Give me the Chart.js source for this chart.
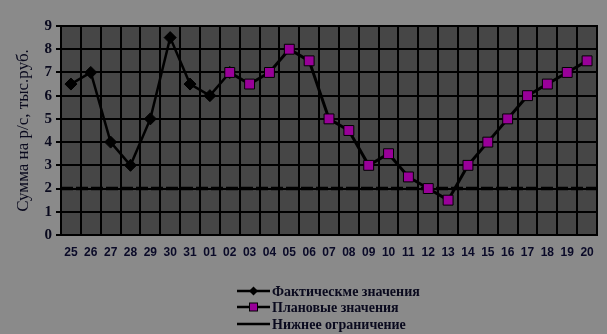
<!DOCTYPE html>
<html><head><meta charset="utf-8">
<script src="https://cdn.jsdelivr.net/npm/chart.js@4"></script>
<style>html,body{margin:0;padding:0;background:#8a8a8a}#w{width:607px;height:334px;position:relative}</style>
</head><body><div id="w"><canvas id="c" width="607" height="334"></canvas></div>
<script>
const categories = ['25','26','27','28','29','30','31','01','02','03','04','05','06','07','08','09','10','11','12','13','14','15','16','17','18','19','20'];
const actualValues = [6.5,7,4,3,5,8.5,6.5,6,7,null,null,null,null,null,null,null,null,null,null,null,null,null,null,null,null,null,null];
const planValues = [null,null,null,null,null,null,null,null,7,6.5,7,8,7.5,5,4.5,3,3.5,2.5,2,1.5,3,4,5,6,6.5,7,7.5];
const lowerLimit = 2;
const yTicks = [0,1,2,3,4,5,6,7,8,9];
const seriesNames = ['Фактическме значения','Плановые значения','Нижнее ограничение'];

const plotBg = {
  id:'plotBg',
  beforeDraw(ch){const {ctx,chartArea:a}=ch;ctx.save();ctx.fillStyle='#8a8a8a';ctx.fillRect(0,0,ch.width,ch.height);ctx.fillStyle='#464646';ctx.fillRect(a.left,a.top,a.right-a.left,a.bottom-a.top);ctx.restore();},
  afterDraw(ch){
    const {ctx,chartArea:a}=ch;ctx.save();
    ctx.strokeStyle='#000';ctx.lineWidth=2;ctx.strokeRect(a.left,a.top,a.right-a.left,a.bottom-a.top);
    const items=ch.data.datasets;
    const x0=237,x1=270,ys=[291,307,324];
    ctx.font='bold 14px "Liberation Serif"';ctx.textBaseline='middle';
    items.forEach((ds,i)=>{
      const y=ys[i];ctx.strokeStyle='#000';ctx.lineWidth=2.5;ctx.setLineDash([]);
      ctx.beginPath();ctx.moveTo(x0,y);ctx.lineTo(x1,y);ctx.stroke();
      const mx=(x0+x1)/2;
      if(i===0){ctx.fillStyle='#000';ctx.beginPath();ctx.moveTo(mx,y-4.5);ctx.lineTo(mx+4.5,y);ctx.lineTo(mx,y+4.5);ctx.lineTo(mx-4.5,y);ctx.closePath();ctx.fill();}
      if(i===1){ctx.fillStyle='#990099';ctx.fillRect(mx-4,y-4,8,8);ctx.lineWidth=1;ctx.strokeRect(mx-4,y-4,8,8);}
      ctx.fillStyle='#0a0a1e';ctx.fillText(ds.label,x1+2,y+1);
    });
    ctx.restore();
  }
};

new Chart(document.getElementById('c'),{
  type:'line',
  data:{labels:categories,datasets:[
    {label:seriesNames[0],data:actualValues,borderColor:'#000',backgroundColor:'#000',borderWidth:2.5,pointStyle:'rectRot',pointRadius:6,pointBorderWidth:1,spanGaps:false,order:2},
    {label:seriesNames[1],data:planValues,borderColor:'#000',backgroundColor:'#990099',pointBorderColor:'#000',borderWidth:3,pointStyle:'rect',pointRadius:7,pointBorderWidth:1,order:1},
    {label:seriesNames[2],data:[{x:0,y:lowerLimit},{x:1,y:lowerLimit}],xAxisID:'x2',borderColor:'#000000',backgroundColor:'#000000',borderWidth:3.5,borderDash:[12,3],pointRadius:0,fill:false,order:3}
  ]},
  options:{
    responsive:false,animation:false,
    layout:{padding:{top:26,right:10,left:0,bottom:0}},
    plugins:{legend:{display:false},tooltip:{enabled:false}},
    scales:{
      x:{type:'category',offset:true,grid:{offset:true,color:'#000',lineWidth:2,drawTicks:false},border:{display:false},
         ticks:{color:'#0a0a28',font:{family:'"Liberation Sans"',weight:'bold',size:12},padding:10,maxRotation:0,autoSkip:false},
         afterFit(s){s.height=99;}},
      x2:{type:'linear',min:0,max:1,display:false},
      y:{min:0,max:9,afterBuildTicks(s){s.ticks=yTicks.map(v=>({value:v}));},
         grid:{color:'#000',lineWidth:2,tickLength:5},border:{color:'#000',width:2},
         ticks:{color:'#0a0a1e',font:{family:'"Liberation Serif"',weight:'bold',size:15},padding:4},
         title:{display:true,text:'Сумма на р/с, тыс.руб.',color:'#0a0a1e',font:{family:'"Liberation Serif"',size:17},padding:{top:13,bottom:0}},
         afterFit(s){s.width=61;}}
    }
  },
  plugins:[plotBg]
});
</script></body></html>
